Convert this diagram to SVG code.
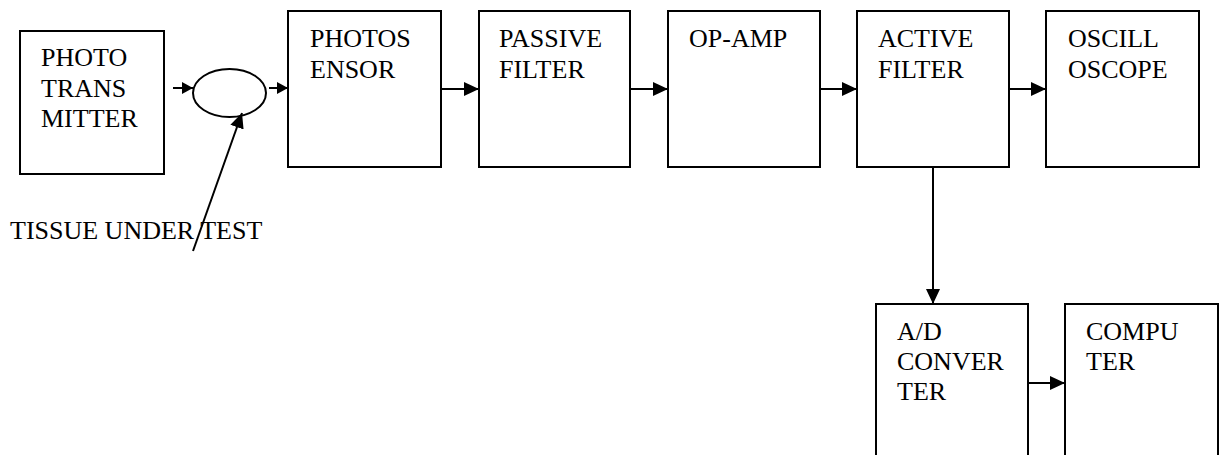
<svg xmlns="http://www.w3.org/2000/svg" width="1219" height="455" viewBox="0 0 1219 455">
  <style>
    .box { fill: #fff; stroke: #000; stroke-width: 2; }
    .lbl { font-family: "Liberation Serif", "Times New Roman", serif; font-size: 26px; fill: #000; }
    .wire { fill: none; stroke: #000; stroke-width: 2; }
    .tip { marker-end: url(#head); }
  </style>
  <defs>
    <marker id="head" markerUnits="userSpaceOnUse" markerWidth="16" markerHeight="14" refX="15" refY="7" orient="auto">
      <path d="M0,0 L15,7 L0,14 Z" fill="#000"/>
    </marker>
    <marker id="headSmall" markerUnits="userSpaceOnUse" markerWidth="12" markerHeight="12" refX="11" refY="6" orient="auto">
      <path d="M0,0 L11,6 L0,12 Z" fill="#000"/>
    </marker>
  </defs>
  <rect width="1219" height="455" fill="#fff"/>

  <g id="photo-transmitter">
    <rect class="box" x="20" y="31" width="144" height="143"/>
    <text class="lbl" x="41" y="66">PHOTO</text>
    <text class="lbl" x="41" y="96.5">TRANS</text>
    <text class="lbl" x="41" y="127">MITTER</text>
  </g>

  <g id="tissue">
    <ellipse class="wire" cx="229.5" cy="93" rx="36.5" ry="24"/>
    <text class="lbl" x="10" y="239">TISSUE UNDER TEST</text>
  </g>

  <g id="photosensor">
    <rect class="box" x="288" y="11" width="153" height="156"/>
    <text class="lbl" x="310" y="47">PHOTOS</text>
    <text class="lbl" x="310" y="78">ENSOR</text>
  </g>

  <g id="passive-filter">
    <rect class="box" x="479" y="11" width="151" height="156"/>
    <text class="lbl" x="499" y="47">PASSIVE</text>
    <text class="lbl" x="499" y="78">FILTER</text>
  </g>

  <g id="op-amp">
    <rect class="box" x="668" y="11" width="152" height="156"/>
    <text class="lbl" x="689" y="47">OP-AMP</text>
  </g>

  <g id="active-filter">
    <rect class="box" x="857" y="11" width="152" height="156"/>
    <text class="lbl" x="878" y="47">ACTIVE</text>
    <text class="lbl" x="878" y="78">FILTER</text>
  </g>

  <g id="oscilloscope">
    <rect class="box" x="1046" y="11" width="153" height="156"/>
    <text class="lbl" x="1068" y="47">OSCILL</text>
    <text class="lbl" x="1068" y="78">OSCOPE</text>
  </g>

  <g id="ad-converter">
    <rect class="box" x="876" y="304" width="152" height="160"/>
    <text class="lbl" x="897" y="340">A/D</text>
    <text class="lbl" x="897" y="370">CONVER</text>
    <text class="lbl" x="897" y="400">TER</text>
  </g>

  <g id="computer">
    <rect class="box" x="1065" y="304" width="153" height="160"/>
    <text class="lbl" x="1086" y="340">COMPU</text>
    <text class="lbl" x="1086" y="370">TER</text>
  </g>

  <g id="connectors">
    <line class="wire" x1="173" y1="88" x2="193" y2="88" marker-end="url(#headSmall)"/>
    <line class="wire" x1="269" y1="88" x2="288" y2="88" marker-end="url(#headSmall)"/>
    <line class="wire" x1="193" y1="251" x2="242" y2="113" marker-end="url(#head)"/>
    <line class="wire tip" x1="441" y1="89" x2="479" y2="89"/>
    <line class="wire tip" x1="630" y1="89" x2="668" y2="89"/>
    <line class="wire tip" x1="820" y1="89" x2="857" y2="89"/>
    <line class="wire tip" x1="1009" y1="89" x2="1046" y2="89"/>
    <line class="wire tip" x1="933" y1="167" x2="933" y2="304"/>
    <line class="wire tip" x1="1028" y1="383" x2="1065" y2="383"/>
  </g>
</svg>
